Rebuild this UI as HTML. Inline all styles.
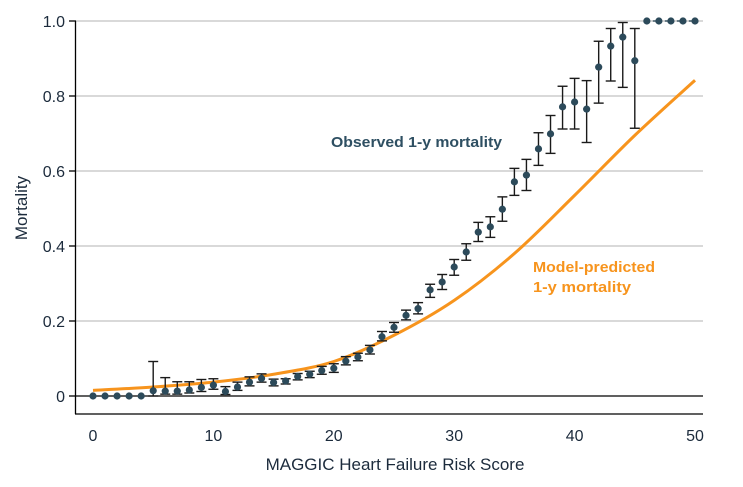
<!DOCTYPE html>
<html><head><meta charset="utf-8"><style>
body{margin:0;background:#fff;}
svg{display:block;font-family:"Liberation Sans",sans-serif;}
</style></head><body>
<svg id="chart" width="743" height="487" viewBox="0 0 743 487"></svg>
<script>
const scores=[0,1,2,3,4,5,6,7,8,9,10,11,12,13,14,15,16,17,18,19,20,21,22,23,24,25,26,27,28,29,30,31,32,33,34,35,36,37,38,39,40,41,42,43,44,45,46,47,48,49,50];
const observed=[0,0,0,0,0,0.014,0.013,0.013,0.016,0.023,0.029,0.012,0.024,0.037,0.047,0.036,0.040,0.052,0.058,0.068,0.074,0.093,0.104,0.123,0.158,0.183,0.215,0.233,0.283,0.304,0.344,0.384,0.437,0.451,0.498,0.571,0.589,0.659,0.699,0.771,0.784,0.765,0.877,0.933,0.957,0.894,1,1,1,1,1];
const ciHigh=[null,null,null,null,null,0.092,0.049,0.038,0.038,0.044,0.046,0.025,0.037,0.051,0.059,0.045,0.046,0.06,0.066,0.079,0.086,0.105,0.114,0.135,0.172,0.196,0.229,0.249,0.298,0.324,0.364,0.406,0.463,0.478,0.531,0.607,0.631,0.702,0.748,0.826,0.847,0.841,0.946,0.98,0.996,0.98,null,null,null,null,null];
const ciLow=[null,null,null,null,null,0.0,0.005,0.005,0.008,0.012,0.018,0.004,0.015,0.027,0.037,0.027,0.032,0.043,0.049,0.058,0.063,0.083,0.094,0.112,0.147,0.170,0.203,0.219,0.263,0.284,0.322,0.362,0.412,0.423,0.466,0.535,0.548,0.615,0.647,0.712,0.712,0.676,0.781,0.840,0.823,0.714,null,null,null,null,null];
const predX=[0,5,10,15,20,25,30,35,40,45,50];
const predicted=[0.015,0.024,0.037,0.058,0.092,0.162,0.255,0.38,0.535,0.695,0.842];
const yTicks=[0,0.2,0.4,0.6,0.8,1.0];
const yTickLabels=["0","0.2","0.4","0.6","0.8","1.0"];
const xTicks=[0,10,20,30,40,50];

const svg=document.getElementById('chart');
const NS='http://www.w3.org/2000/svg';
const X=v=>93+v*12.04;
const Y=v=>396-v*375;
function mk(tag,attrs,parent){const e=document.createElementNS(NS,tag);for(const k in attrs)e.setAttribute(k,attrs[k]);(parent||svg).appendChild(e);return e;}

yTicks.forEach((t,i)=>{
  const g=mk('line',{x1:76,x2:703,y1:Y(t),y2:Y(t),stroke:t===0?'#000':'#d9d9d9','stroke-width':t===0?1.3:2});
  
  
  const tk=mk('line',{x1:69,x2:76,y1:Y(t),y2:Y(t),stroke:'#000','stroke-width':1.3});
  
  
  const lb=mk('text',{x:65,y:Y(t)+6,'text-anchor':'end','font-size':16,fill:'#1c2b3c'});
  lb.textContent=yTickLabels[i];
  
  
});
const ya=mk('line',{x1:75.5,x2:75.5,y1:21,y2:414,stroke:'#000','stroke-width':1.3});


const xa=mk('line',{x1:75,x2:703,y1:414,y2:414,stroke:'#000','stroke-width':1.3});


xTicks.forEach(t=>{
  const lb=mk('text',{x:X(t),y:441,'text-anchor':'middle','font-size':16,fill:'#1c2b3c'});
  lb.textContent=String(t);
  
  
});
const xt=mk('text',{x:395,y:470,'text-anchor':'middle','font-size':17,fill:'#1c2b3c'});
xt.textContent='MAGGIC Heart Failure Risk Score';


const yt=mk('text',{x:0,y:0,'text-anchor':'middle','font-size':17,fill:'#1c2b3c',transform:'translate(27,208) rotate(-90)'});
yt.textContent='Mortality';



const pts=predX.map((x,i)=>[X(x),Y(predicted[i])]);
let d='M'+pts[0][0]+','+pts[0][1];
for(let i=0;i<pts.length-1;i++){
  const p0=pts[Math.max(0,i-1)],p1=pts[i],p2=pts[i+1],p3=pts[Math.min(pts.length-1,i+2)];
  d+=' C'+(p1[0]+(p2[0]-p0[0])/6)+','+(p1[1]+(p2[1]-p0[1])/6)+' '+(p2[0]-(p3[0]-p1[0])/6)+','+(p2[1]-(p3[1]-p1[1])/6)+' '+p2[0]+','+p2[1];
}
const curve=mk('path',{d:d,fill:'none',stroke:'#f7941d','stroke-width':3});



const dl=mk('line',{x1:X(46),x2:X(50),y1:Y(1),y2:Y(1),stroke:'#2c4a5a','stroke-width':1.3,'stroke-dasharray':'3,3'});



scores.forEach((s,i)=>{
  if(ciHigh[i]!==null){
    const g=mk('g',{stroke:'#1a1a1a','stroke-width':1.4});
    
    
    mk('line',{x1:X(s),x2:X(s),y1:Y(ciHigh[i]),y2:Y(ciLow[i])},g);
    mk('line',{x1:X(s)-5,x2:X(s)+5,y1:Y(ciHigh[i]),y2:Y(ciHigh[i])},g);
    mk('line',{x1:X(s)-5,x2:X(s)+5,y1:Y(ciLow[i]),y2:Y(ciLow[i])},g);
  }
  const c=mk('circle',{cx:X(s),cy:Y(observed[i]),r:3.6,fill:'#2c4a5a'});
  
  
});

const l1=mk('text',{x:331,y:147,'font-size':15,'font-weight':'bold',fill:'#2e4f62',textLength:171,lengthAdjust:'spacingAndGlyphs'});
l1.textContent='Observed 1-y mortality';


const l2=mk('text',{x:533,y:272,'font-size':15,'font-weight':'bold',fill:'#f7941d',textLength:122,lengthAdjust:'spacingAndGlyphs'});
l2.textContent='Model-predicted';


const l3=mk('text',{x:533,y:292,'font-size':15,'font-weight':'bold',fill:'#f7941d',textLength:98,lengthAdjust:'spacingAndGlyphs'});
l3.textContent='1-y mortality';


</script>
</body></html>
